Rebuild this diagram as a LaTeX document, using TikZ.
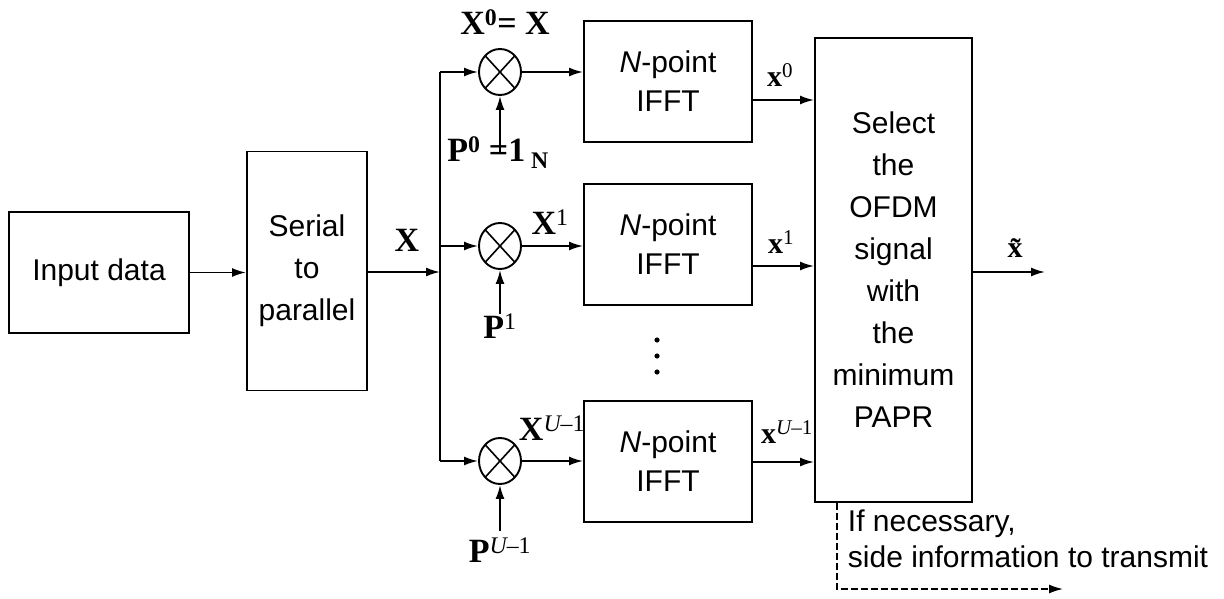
\documentclass[tikz,border=0pt]{standalone}
\usepackage{fontspec}
\setmainfont{Liberation Serif}
\setsansfont{Liberation Sans}
\usetikzlibrary{arrows.meta,shapes.geometric}
\begin{document}
\begin{tikzpicture}[x=1pt,y=-1pt,line width=1.9pt,
  box/.style={draw,rectangle,inner sep=0pt,align=center,font=\fontsize{30}{42}\selectfont\sffamily},
  mult/.style={draw,ellipse,minimum width=42pt,minimum height=46pt,inner sep=0pt,
    path picture={\draw[line width=1.6pt] (path picture bounding box.north west) -- (path picture bounding box.south east)
      (path picture bounding box.north east) -- (path picture bounding box.south west);}},
  arr/.style={-{Latex[length=14pt,width=9pt]}},
  lab/.style={inner sep=0pt,font=\fontsize{34}{36}\selectfont\bfseries},
  slab/.style={inner sep=0pt,font=\fontsize{30}{32}\selectfont\bfseries},
  note/.style={inner sep=0pt,align=left,anchor=north west,font=\fontsize{30}{36}\selectfont\sffamily}]
\useasboundingbox (0,0) rectangle (1224,599);
% blocks
\node[box,minimum width=180pt,minimum height=121pt] (inp) at (99,272.5) {Input data};
\node[box,minimum width=120pt,minimum height=239pt] (sp) at (307,271) {Serial\\to\\parallel};
\node[mult] (m0) at (500,72) {};
\node[mult] (m1) at (500,246) {};
\node[mult] (m2) at (500,461) {};
\node[box,minimum width=168pt,minimum height=121pt,font=\fontsize{30}{39}\selectfont\sffamily] (f0) at (668,81.5) {\textit{N}-point\\IFFT};
\node[box,minimum width=168pt,minimum height=121pt,font=\fontsize{30}{39}\selectfont\sffamily] (f1) at (668,244.5) {\textit{N}-point\\IFFT};
\node[box,minimum width=168pt,minimum height=121pt,font=\fontsize{30}{39}\selectfont\sffamily] (f2) at (668,461.5) {\textit{N}-point\\IFFT};
\node[box,minimum width=157pt,minimum height=464pt] (sel) at (893.5,270) {Select\\the\\OFDM\\signal\\with\\the\\minimum\\PAPR};
% vertical dots
\fill (657,340) circle (2.6pt) (657,356) circle (2.6pt) (657,372) circle (2.6pt);
% coordinates
\coordinate (split) at (440,272);
\coordinate (out) at (1045,272);
\coordinate (send) at (1063,589);
% labels
\node[lab] (lX) at (407,240) {X};
\node[lab] (lX0) at (505,22) {X\textsuperscript{0}= X};
\node[lab] (lX1) at (550,222) {X\textsuperscript{\mdseries 1}};
\node[lab] (lXU) at (552,428) {X\textsuperscript{\mdseries\itshape U\upshape –1}};
\node[lab] (lP0) at (498,153) {P\textsuperscript{0} =1\,\textsubscript{N}};
\node[lab] (lP1) at (500,326) {P\textsuperscript{\mdseries 1}};
\node[lab] (lPU) at (500,550) {P\textsuperscript{\mdseries\itshape U\upshape –1}};
\node[slab] (lx0) at (780,75) {x\textsuperscript{\mdseries 0}};
\node[slab] (lx1) at (781,242) {x\textsuperscript{\mdseries 1}};
\node[slab] (lxU) at (787,432) {x\textsuperscript{\mdseries\itshape U\upshape –1}};
\node[slab] (lxt) at (1015,248) {\~{x}};
\node[note] (side) at (847,509) {If necessary,\\side information to transmit};
% connectors
\draw[arr] (inp.east) -- (inp.east -| sp.west);
\draw[arr] (sp.east |- split) -- (split);
\draw (m0.west -| split) -- (m2.west -| split);
\draw[arr] (m0.west -| split) -- (m0.west);
\draw[arr] (m1.west -| split) -- (m1.west);
\draw[arr] (m2.west -| split) -- (m2.west);
\draw[arr] (m0.east) -- (m0.east -| f0.west);
\draw[arr] (m1.east) -- (m1.east -| f1.west);
\draw[arr] (m2.east) -- (m2.east -| f2.west);
\draw[arr] ([yshift=-18.5pt]f0.east) -- ([yshift=-18.5pt]f0.east -| sel.west);
\draw[arr] ([yshift=-21.5pt]f1.east) -- ([yshift=-21.5pt]f1.east -| sel.west);
\draw[arr] ([yshift=-0.5pt]f2.east) -- ([yshift=-0.5pt]f2.east -| sel.west);
\draw[arr] ([yshift=-17pt]lP0.north -| m0.south) -- (m0.south);
\draw[arr] ([yshift=-1pt]lP1.north -| m1.south) -- (m1.south);
\draw[arr] ([yshift=6pt]lPU.north -| m2.south) -- (m2.south);
\draw[arr] (sel.east |- out) -- (out);
\draw[arr,line width=1.5pt,dash pattern=on 7pt off 3pt] ([xshift=-56.5pt]sel.south) |- (send);
\end{tikzpicture}
\end{document}
